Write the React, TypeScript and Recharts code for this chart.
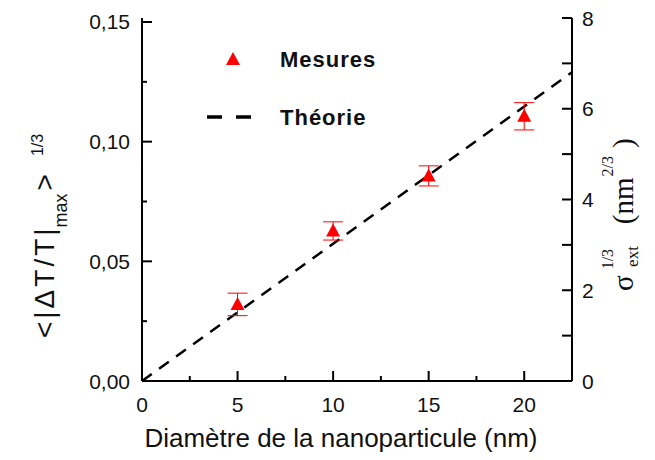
import { ComposedChart, XAxis, YAxis, Scatter, Line, ErrorBar, Legend } from 'recharts';

// measured values: diameter (nm), <|dT/T|max>^(1/3) and its error bar
const diameters = [5, 10, 15, 20];
const deltaT = [0.032, 0.0627, 0.0857, 0.1106];
const deltaTErr = [0.0047, 0.0038, 0.0042, 0.0057];

// theory: straight line through the origin
const theoryX = [0, 22.5];
const theoryY = [0, 0.129];

const xTicks = [0, 2.5, 5, 7.5, 10, 12.5, 15, 17.5, 20];
const leftTicks = [0, 0.025, 0.05, 0.075, 0.1, 0.125, 0.15];
const rightTicks = [0, 1, 2, 3, 4, 5, 6, 7, 8];

const mesures = diameters.map((d, i) => ({ d, v: deltaT[i], err: deltaTErr[i] }));
const theorie = theoryX.map((d, i) => ({ d, t: theoryY[i] }));

const SANS = '"Liberation Sans", Arial, sans-serif';
const SERIF = '"Liberation Serif", "Times New Roman", serif';
const INK = '#111';

const isMultiple = (v: number, step: number) => Math.abs(v / step - Math.round(v / step)) < 1e-6;

const BottomTick = ({ x, y, payload }: any) => {
  const major = isMultiple(payload.value, 5);
  return (
    <g>
      <line x1={x} y1={y} x2={x} y2={y - (major ? 10 : 5)} stroke="#000" strokeWidth={2} />
      {major && (
        <text x={x} y={y + 31} textAnchor="middle" fontFamily={SANS} fontSize={21} fill={INK}>
          {payload.value}
        </text>
      )}
    </g>
  );
};

const LeftTick = ({ x, y, payload }: any) => {
  const major = isMultiple(payload.value, 0.05);
  return (
    <g>
      <line x1={x} y1={y} x2={x + (major ? 10 : 5)} y2={y} stroke="#000" strokeWidth={2} />
      {major && (
        <text x={x - 12} y={y + 7.5} textAnchor="end" fontFamily={SANS} fontSize={21} fill={INK}>
          {payload.value.toFixed(2).replace('.', ',')}
        </text>
      )}
    </g>
  );
};

const RightTick = ({ x, y, payload }: any) => {
  const major = isMultiple(payload.value, 2);
  return (
    <g>
      <line x1={x} y1={y} x2={x - 10} y2={y} stroke="#000" strokeWidth={2} />
      {major && (
        <text x={x + 10} y={y + 7.5} textAnchor="start" fontFamily={SANS} fontSize={21} fill={INK}>
          {payload.value}
        </text>
      )}
    </g>
  );
};

const XTitle = ({ viewBox }: any) => (
  <text
    x={viewBox.x + 199}
    y={viewBox.y + 66}
    textAnchor="middle"
    fontFamily={SANS}
    fontSize={26}
    fill={INK}
  >
    Diamètre de la nanoparticule (nm)
  </text>
);

const LeftTitle = ({ viewBox }: any) => {
  const x0 = viewBox.x + 36;
  const y0 = viewBox.y + 320;
  return (
    <text x={x0} y={y0} transform={`rotate(-90 ${x0} ${y0})`} fontFamily={SANS} fill={INK}>
      <tspan fontSize={28} letterSpacing={3}>{'<|ΔT/T|'}</tspan>
      <tspan fontSize={18} dy={13} dx={-2}>max</tspan>
      <tspan fontSize={28} dy={-13} dx={3}>{'>'}</tspan>
      <tspan fontSize={16} dy={-11} dx={18}>1/3</tspan>
    </text>
  );
};

// sigma_ext^(1/3) (nm^(2/3)), superscript stacked over the subscript
const RightTitle = ({ viewBox }: any) => {
  const x0 = viewBox.x + 61;
  const y0 = viewBox.y + 273;
  return (
    <text x={x0} y={y0} transform={`rotate(-90 ${x0} ${y0})`} fontFamily={SERIF} fill={INK}>
      <tspan fontSize={29}>σ</tspan>
      <tspan fontSize={16} dy={-20} dx={6}>1/3</tspan>
      <tspan fontSize={17} dy={25} dx={-18}>ext</tspan>
      <tspan fontSize={29} dy={-5} dx={22}>(nm</tspan>
      <tspan fontSize={16} dy={-20} dx={1}>2/3</tspan>
      <tspan fontSize={29} dy={20} dx={8}>)</tspan>
    </text>
  );
};

const Triangle = ({ cx, cy }: any) => (
  <polygon points={`${cx - 7},${cy + 5.5} ${cx + 7},${cy + 5.5} ${cx},${cy - 7.5}`} fill="#ff0000" />
);

const LegendBox = () => (
  <svg width={200} height={110}>
    <polygon points="28,27 42,27 35,14" fill="#ff0000" />
    <text x={82} y={29} fontFamily={SANS} fontWeight="bold" fontSize={22} letterSpacing={1} fill={INK}>
      Mesures
    </text>
    <line x1={9} y1={79} x2={54} y2={79} stroke="#000" strokeWidth={3.3} strokeDasharray="15 14" />
    <text x={82} y={87} fontFamily={SANS} fontWeight="bold" fontSize={22} letterSpacing={1} fill={INK}>
      Théorie
    </text>
  </svg>
);

export default function App() {
  return (
    <div style={{ width: 639, height: 448, background: '#fff' }}>
      <ComposedChart width={639} height={448} margin={{ top: 10, right: 15, left: 10, bottom: 11 }}>
        <XAxis
          dataKey="d"
          type="number"
          domain={[0, 22.5]}
          ticks={xTicks}
          allowDataOverflow
          height={64}
          tickSize={0}
          tickMargin={0}
          tickLine={false}
          tick={<BottomTick />}
          axisLine={{ stroke: '#000', strokeWidth: 2 }}
          label={{ content: XTitle }}
        />
        <XAxis
          xAxisId="top"
          orientation="top"
          type="number"
          domain={[0, 22.5]}
          allowDataOverflow
          height={0}
          tick={false}
          tickLine={false}
          axisLine={{ stroke: '#000', strokeWidth: 2 }}
        />
        <YAxis
          yAxisId="left"
          type="number"
          domain={[0, 0.15167]}
          ticks={leftTicks}
          allowDataOverflow
          width={124}
          tickSize={0}
          tickMargin={0}
          tickLine={false}
          tick={<LeftTick />}
          axisLine={{ stroke: '#000', strokeWidth: 2 }}
          label={{ content: LeftTitle }}
        />
        <YAxis
          yAxisId="right"
          orientation="right"
          type="number"
          domain={[0, 8]}
          ticks={rightTicks}
          allowDataOverflow
          width={60}
          tickSize={0}
          tickMargin={0}
          tickLine={false}
          tick={<RightTick />}
          axisLine={{ stroke: '#000', strokeWidth: 2 }}
          label={{ content: RightTitle }}
        />
        <Legend
          layout="horizontal"
          verticalAlign="middle"
          align="center"
          wrapperStyle={{ position: 'absolute', left: 190, top: 30, width: 200, height: 110 }}
          content={LegendBox}
        />
        <Line
          yAxisId="left"
          data={theorie}
          dataKey="t"
          type="linear"
          stroke="#000"
          strokeWidth={2.5}
          strokeDasharray="12 9"
          dot={false}
          activeDot={false}
          isAnimationActive={false}
        />
        <Scatter
          yAxisId="left"
          data={mesures}
          dataKey="v"
          shape={<Triangle />}
          isAnimationActive={false}
        >
          <ErrorBar dataKey="err" direction="y" width={10} stroke="#ff0000" strokeWidth={1} isAnimationActive={false} />
        </Scatter>
      </ComposedChart>
    </div>
  );
}
